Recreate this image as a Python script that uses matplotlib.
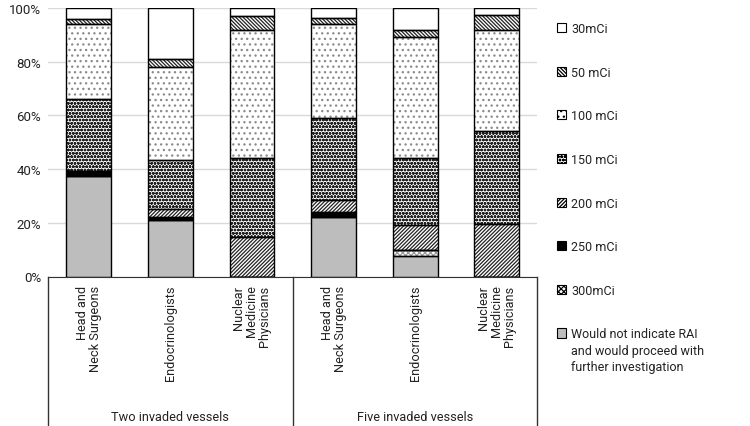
import matplotlib
matplotlib.use("Agg")
import matplotlib.pyplot as plt
import matplotlib.patches as mpatches
from matplotlib.text import Annotation
from matplotlib import font_manager
import numpy as np

names = {f.name for f in font_manager.fontManager.ttflist}
fam = 'Liberation Sans Narrow' if 'Liberation Sans Narrow' in names else 'Roboto'
plt.rcParams['font.family'] = [fam, 'DejaVu Sans']
plt.rcParams['hatch.linewidth'] = 0.9

categories = ["Head and\nNeck Surgeons", "Endocrinologists", "Nuclear\nMedicine\nPhysicians",
              "Head and\nNeck Surgeons", "Endocrinologists", "Nuclear\nMedicine\nPhysicians"]
groups = ["Two invaded vessels", "Five invaded vessels"]

# series bottom to top
would_not = [37.5, 21.1, 0.0, 22.0, 7.7, 0.0]
mci300 = [0.0, 0.0, 0.0, 0.0, 2.2, 0.0]
mci250 = [1.7, 0.9, 0.0, 2.2, 0.0, 0.0]
mci200 = [0.0, 3.1, 14.8, 4.2, 9.2, 19.5]
mci150 = [26.9, 18.2, 29.5, 30.5, 24.9, 34.8]
mci100 = [28.0, 34.6, 47.5, 35.1, 45.1, 37.5]
mci50 = [1.9, 3.0, 5.3, 2.2, 2.8, 5.7]
mci30 = [4.0, 19.1, 2.9, 3.8, 8.1, 2.5]

wn_label = "Would not indicate RAI"
wn_label_rest = "and would proceed with\nfurther investigation"

series = [
    (wn_label, would_not, '#bdbdbd', None, '#bdbdbd'),
    ("300mCi", mci300, 'white', 'xxxxxx', '#999999'),
    ("250 mCi", mci250, 'black', None, 'black'),
    ("200 mCi", mci200, 'white', '/////////', '#222222'),
    ("150 mCi", mci150, 'white', 'ooooo', '#222222'),
    ("100 mCi", mci100, 'white', '...', '#8a8a8a'),
    ("50 mCi", mci50, 'white', '\\\\\\\\\\\\\\\\\\', '#222222'),
    ("30mCi", mci30, 'white', None, 'white'),
]

fig = plt.figure(figsize=(7.5, 4.27), dpi=100)
ax = fig.add_axes([48/750, 1-277.5/427, (537.5-48)/750, (277.5-9)/427])

x = np.arange(len(categories))
w = 0.55
bottom = np.zeros(len(categories))
handles = {}
for label, vals, fc, hatch, hc in series:
    vals = np.array(vals)
    ax.bar(x, vals, w, bottom=bottom, color=fc, hatch=hatch, edgecolor=hc, linewidth=0, zorder=2)
    ax.bar(x, vals, w, bottom=bottom, fill=False, edgecolor='black', linewidth=1.0, zorder=3)
    handles[label] = mpatches.Patch(facecolor=fc, hatch=hatch, edgecolor='black', linewidth=0.8)
    bottom += vals

ax.set_xlim(-0.5, 5.5)
ax.set_ylim(0, 100)
ax.set_yticks([0, 20, 40, 60, 80, 100])
ax.set_yticklabels([f"{v}%" for v in [0, 20, 40, 60, 80, 100]], fontsize=9.5, color='#222222')
ax.yaxis.grid(True, color='#d9d9d9', linewidth=1.0, zorder=0)
ax.set_axisbelow(True)
for s in ['top', 'right', 'left']:
    ax.spines[s].set_visible(False)
ax.spines['bottom'].set_color('#333333')
ax.tick_params(axis='y', length=0, pad=5)
ax.set_xticks([])

trans = ax.get_xaxis_transform()
for i, c in enumerate(categories):
    ax.text(i, -0.03, c, rotation=90, ha='center', va='top', multialignment='right',
            fontsize=9.2, transform=trans, linespacing=1.0, color='#222222')
for xv in [-0.5, 2.5, 5.5]:
    ax.plot([xv, xv], [0, -0.56], transform=trans, color='#333333', linewidth=1.0, clip_on=False)
for gi, g in enumerate(groups):
    ax.text(1 + 3*gi, -0.52, g, ha='center', va='center', fontsize=9.2, transform=trans, color='#222222')

order = ["30mCi", "50 mCi", "100 mCi", "150 mCi", "200 mCi", "250 mCi", "300mCi", wn_label]
leg = fig.legend([handles[k] for k in order], order, loc='upper left',
                 bbox_to_anchor=(557/750, 1-23/427), frameon=False, fontsize=9,
                 handlelength=0.75, handleheight=0.75, handletextpad=0.4,
                 labelspacing=2.45, borderaxespad=0, borderpad=0)
for t in leg.get_texts():
    t.set_color('#222222')
last = leg.get_texts()[-1]
ann = Annotation(wn_label_rest, xy=(0, 0), xycoords=last, xytext=(0, -2.5),
                 textcoords='offset points', ha='left', va='top', fontsize=9,
                 linespacing=1.35, color='#222222', annotation_clip=False)
ann.set_zorder(20)
fig.add_artist(ann)

fig.savefig("out.png", dpi=100)
